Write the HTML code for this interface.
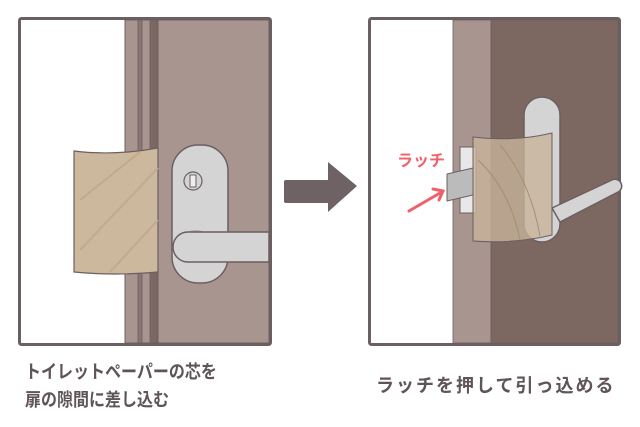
<!DOCTYPE html>
<html><head><meta charset="utf-8"><style>
body{margin:0;width:640px;height:427px;background:#fff;overflow:hidden;position:relative;font-family:"Liberation Sans","Noto Sans CJK JP",sans-serif}
.t{position:absolute;color:#5f5557;font-size:16px;font-weight:bold;white-space:nowrap;line-height:1;transform:scaleY(1.15);transform-origin:0 0}
</style></head><body>
<svg width="640" height="427" style="position:absolute;left:0;top:0">
<rect x="19.5" y="18.5" width="251" height="326" fill="#fff" stroke="#6b5f61" stroke-width="3" rx="2"/>
<rect x="125" y="20" width="34" height="323" fill="#a89590" stroke="#6b5f61" stroke-width="1"/>
<rect x="138" y="20" width="4" height="323" fill="#8a7672" stroke="#6b5f61" stroke-width="0.8"/>
<rect x="150" y="20" width="7" height="323" fill="#7d6761" stroke="#6b5f61" stroke-width="0.8"/>
<rect x="158" y="20" width="111" height="323" fill="#a89590" stroke="#6b5f61" stroke-width="1"/>
<path d="M74 151 Q115 156 158 148 L158 272 Q115 276 74 272 Z" fill="#ccb89c" stroke="#6b5f61" stroke-width="1.2"/>
<path d="M80 200 L140 152 M80 250 L158 168 M110 272 L158 220" stroke="#c4a98a" stroke-width="2" fill="none"/>
<rect x="172" y="145" width="56" height="138" rx="26" fill="#d4d4d4" stroke="#6b5f61" stroke-width="1.5"/>
<circle cx="193" cy="181" r="9" fill="#d4d4d4" stroke="#6b5f61" stroke-width="1.2"/>
<rect x="190" y="175" width="6" height="12" fill="#eee" stroke="#6b5f61" stroke-width="1"/>
<ellipse cx="196" cy="240" rx="14" ry="10" fill="#aaa"/>
<path d="M188 232 L269 232 L269 262 L188 262 A15 15 0 0 1 188 232 Z" fill="#d4d4d4" stroke="#6b5f61" stroke-width="1.5"/>
<path d="M284 181 L328 181 L328 162 L357 186 L328 212 L328 194 L284 194 Z" fill="#6f6264"/>
<rect x="284" y="180" width="46" height="23" rx="2" fill="#6f6264"/>
<rect x="369.5" y="18.5" width="250" height="326" fill="#fff" stroke="#6b5f61" stroke-width="3" rx="2"/>
<rect x="453" y="20" width="38" height="323" fill="#a89590" stroke="#6b5f61" stroke-width="0.8"/>
<rect x="491" y="20" width="127" height="323" fill="#7d6761" stroke="#6b5f61" stroke-width="0.8"/>
<rect x="524" y="97" width="36" height="145" rx="18" fill="#d4d4d4" stroke="#6b5f61" stroke-width="1.5"/>
<path d="M552 208 L612 180 A6 6 0 0 1 618 192 L560 222 Z" fill="#d4d4d4" stroke="#6b5f61" stroke-width="1.5"/>
<rect x="460" y="147" width="16" height="66" fill="#e8e8e8" stroke="#6b5f61" stroke-width="1"/>
<path d="M447 174 L473 168 L473 195 L447 201 Z" fill="#bbb" stroke="#6b5f61" stroke-width="1"/>
<path d="M473 137 Q515 142 552 133 L552 235 Q515 244 473 241 Z" fill="#c7b39a" fill-opacity="0.8" stroke="#6b5f61" stroke-width="1"/>
<path d="M478 160 Q510 190 520 240 M500 145 Q530 180 540 236" stroke="#a48e74" stroke-width="1" fill="none"/>
<text x="397" y="166" fill="#f0606a" font-size="16" font-weight="bold" font-family="Liberation Sans,Noto Sans CJK JP,sans-serif">ラッチ</text>
<path d="M409 211 L440 193" stroke="#f0606a" stroke-width="3" stroke-linecap="round"/>
<path d="M433 189 L443 191 L439 200" stroke="#f0606a" stroke-width="3" fill="none" stroke-linecap="round"/>
</svg>
<div class="t" style="left:25px;top:364px">トイレットペーパーの芯を</div>
<div class="t" style="left:25px;top:392px">扉の隙間に差し込む</div>
<div class="t" style="left:376px;top:376px;font-size:18px;letter-spacing:2px;transform:scaleY(1.05)">ラッチを押して引っ込める</div>
</body></html>
